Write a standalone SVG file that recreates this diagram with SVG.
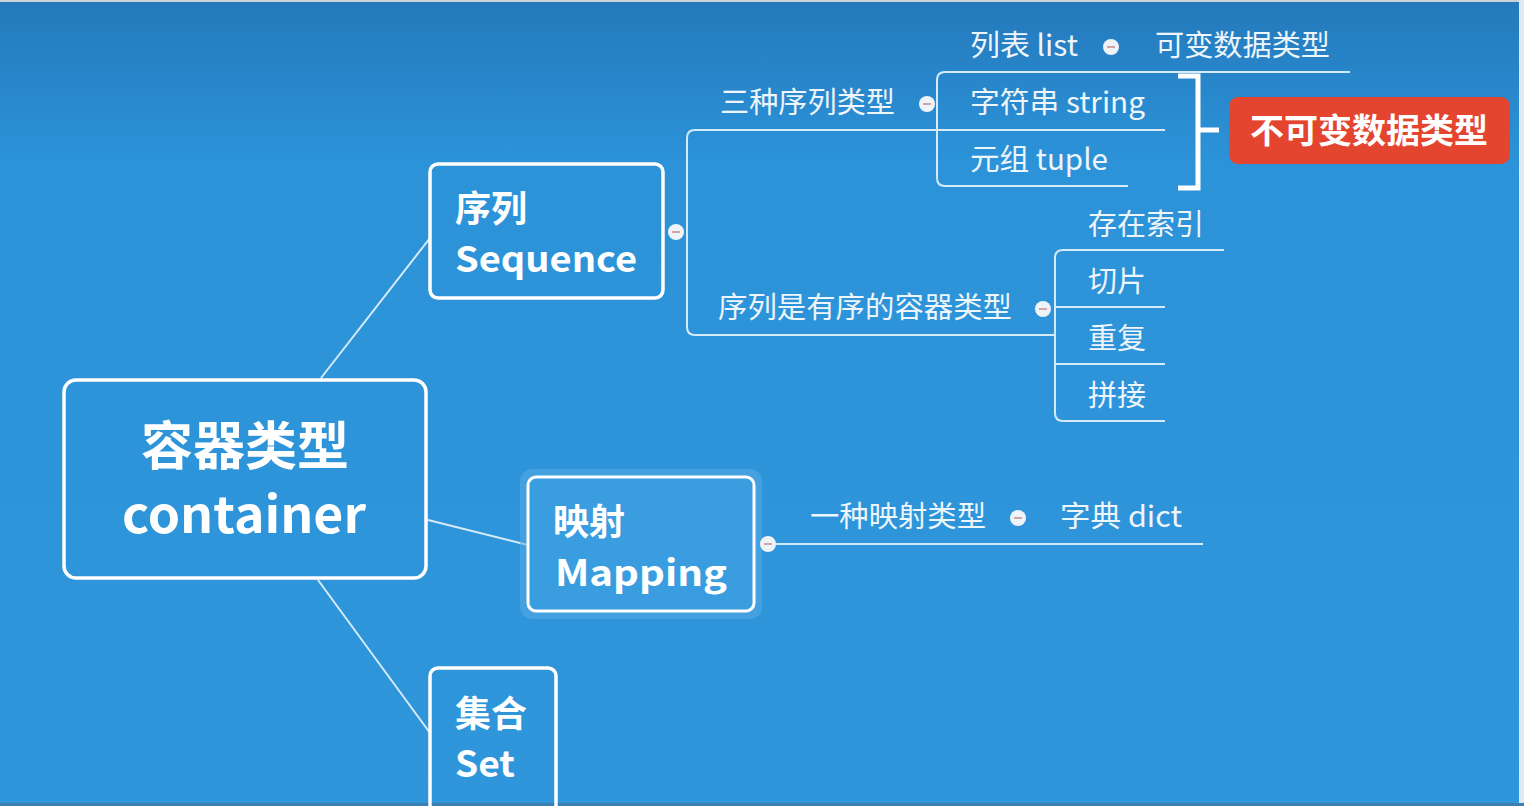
<svg xmlns="http://www.w3.org/2000/svg" width="1524" height="806" viewBox="0 0 1524 806">
<defs>
<linearGradient id="bg" x1="0" y1="0" x2="0" y2="1" gradientUnits="objectBoundingBox">
<stop offset="0" stop-color="#2479bb"/>
<stop offset="0.2" stop-color="#2c93d9"/>
<stop offset="1" stop-color="#2f96dc"/>
</linearGradient>
<style>
.t{font-family:"Noto Sans CJK SC","Noto Sans",sans-serif;fill:#eef5fb;font-size:29px}
.b{font-family:"Noto Sans CJK SC","Noto Sans",sans-serif;fill:#ffffff;font-weight:bold}
.box{fill:none;stroke:#ffffff;stroke-width:3.5}
.ln{fill:none;stroke:#d6ebf9;stroke-width:2}
.dot{fill:#eef3f8}
.dash{stroke:#c98a8a;stroke-width:1.5}
</style>
</defs>
<rect x="0" y="0" width="1524" height="806" fill="url(#bg)"/>
<rect x="0" y="0" width="1524" height="2" fill="#c9d2da"/>
<rect x="1519" y="0" width="5" height="806" fill="#dfe9f1"/>
<rect x="0" y="803" width="1524" height="3" fill="#3b7fb0"/>

<g id="connectors">
<line class="ln" x1="321" y1="378" x2="430" y2="238"/>
<line class="ln" x1="428" y1="520" x2="528" y2="545"/>
<line class="ln" x1="318" y1="580" x2="430" y2="733"/>
<path class="ln" d="M937 130 H695 Q687 130 687 138 V327 Q687 335 695 335 H1055"/>
<path class="ln" d="M1350 72 H945 Q937 72 937 80 V178 Q937 186 945 186 H1128"/>
<line class="ln" x1="937" y1="130" x2="1165" y2="130"/>
<path class="ln" d="M1224 250 H1063 Q1055 250 1055 258 V413 Q1055 421 1063 421 H1165"/>
<line class="ln" x1="1055" y1="307" x2="1165" y2="307"/>
<line class="ln" x1="1055" y1="364" x2="1165" y2="364"/>
<line class="ln" x1="768" y1="544" x2="1203" y2="544"/>
<path d="M1178 76 H1198 V188 H1178 M1198 130 H1219" fill="none" stroke="#ffffff" stroke-width="5"/>
</g>

<g id="root">
<rect class="box" x="64" y="380" width="362" height="198" rx="12" stroke-width="4"/>
<text class="b" x="245" y="465" font-size="52" text-anchor="middle">容器类型</text>
<text class="b" x="244" y="533" font-size="50" text-anchor="middle" textLength="244" lengthAdjust="spacingAndGlyphs">container</text>
</g>

<g id="sequence">
<rect class="box" x="430" y="164" width="233" height="134" rx="8"/>
<text class="b" x="455" y="222" font-size="36">序列</text>
<text class="b" x="455" y="272" font-size="35" textLength="182" lengthAdjust="spacingAndGlyphs">Sequence</text>
<circle class="dot" cx="676" cy="232" r="8"/>
<line class="dash" x1="672" y1="232" x2="680" y2="232"/>
</g>

<g id="mapping">
<rect x="520" y="469" width="242" height="150" rx="12" fill="#5aa9e2" opacity="0.55"/>
<rect x="528" y="477" width="226" height="134" rx="8" fill="#3a9de0" stroke="#ffffff" stroke-width="3"/>
<text class="b" x="553" y="535" font-size="36">映射</text>
<text class="b" x="555" y="586" font-size="36" textLength="172" lengthAdjust="spacingAndGlyphs">Mapping</text>
<circle class="dot" cx="768" cy="544" r="8"/>
<line class="dash" x1="764" y1="544" x2="772" y2="544"/>
</g>

<g id="set">
<rect class="box" x="430" y="668" width="126" height="145" rx="8"/>
<text class="b" x="455" y="727" font-size="36">集合</text>
<text class="b" x="455" y="777" font-size="36" textLength="60" lengthAdjust="spacingAndGlyphs">Set</text>
</g>

<g id="three-seq">
<text class="t" x="720" y="113" textLength="175" lengthAdjust="spacingAndGlyphs">三种序列类型</text>
<circle class="dot" cx="927" cy="104" r="8"/>
<line class="dash" x1="923" y1="104" x2="931" y2="104"/>
</g>
<g id="list">
<text class="t" x="970" y="56" textLength="108" lengthAdjust="spacingAndGlyphs">列表 list</text>
<circle class="dot" cx="1111" cy="47" r="8"/>
<line class="dash" x1="1107" y1="47" x2="1115" y2="47"/>
</g>
<g id="mutable"><text class="t" x="1155" y="56" textLength="175" lengthAdjust="spacingAndGlyphs">可变数据类型</text></g>
<g id="string"><text class="t" x="970" y="113" textLength="175" lengthAdjust="spacingAndGlyphs">字符串 string</text></g>
<g id="tuple"><text class="t" x="970" y="170" textLength="138" lengthAdjust="spacingAndGlyphs">元组 tuple</text></g>
<g id="immutable">
<rect x="1229" y="97" width="281" height="67" rx="9" fill="#e4452f"/>
<text class="b" x="1369" y="143" font-size="34" text-anchor="middle">不可变数据类型</text>
</g>

<g id="ordered">
<text class="t" x="718" y="318" textLength="294" lengthAdjust="spacingAndGlyphs">序列是有序的容器类型</text>
<circle class="dot" cx="1043" cy="309" r="8"/>
<line class="dash" x1="1039" y1="309" x2="1047" y2="309"/>
</g>
<g id="index"><text class="t" x="1088" y="235" textLength="116" lengthAdjust="spacingAndGlyphs">存在索引</text></g>
<g id="slice"><text class="t" x="1088" y="292">切片</text></g>
<g id="repeat"><text class="t" x="1088" y="349">重复</text></g>
<g id="concat"><text class="t" x="1088" y="406">拼接</text></g>

<g id="one-map">
<text class="t" x="810" y="527" textLength="176" lengthAdjust="spacingAndGlyphs">一种映射类型</text>
<circle class="dot" cx="1018" cy="518" r="8"/>
<line class="dash" x1="1014" y1="518" x2="1022" y2="518"/>
</g>
<g id="dict"><text class="t" x="1060" y="527" textLength="122" lengthAdjust="spacingAndGlyphs">字典 dict</text></g>
</svg>
